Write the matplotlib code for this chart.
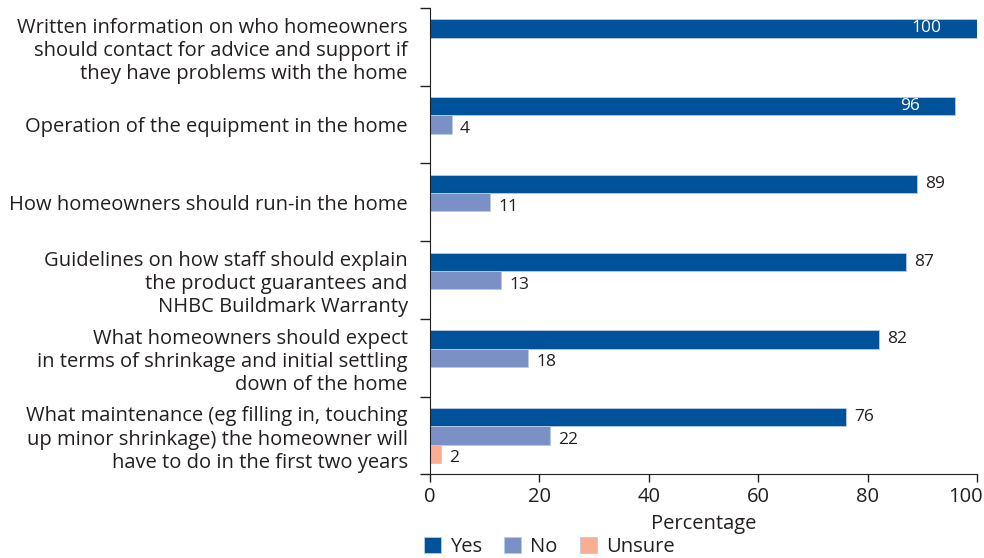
import numpy as np
import matplotlib.pyplot as plt
from matplotlib.transforms import ScaledTranslation

# Survey responses per item (percentage of respondents)
items = [
    "Written information on who homeowners\nshould contact for advice and support if\nthey have problems with the home",
    "Operation of the equipment in the home",
    "How homeowners should run-in the home",
    "Guidelines on how staff should explain\nthe product guarantees and\nNHBC Buildmark Warranty",
    "What homeowners should expect\nin terms of shrinkage and initial settling\ndown of the home",
    "What maintenance (eg filling in, touching\nup minor shrinkage) the homeowner will\nhave to do in the first two years",
]
yes = [100, 96, 89, 87, 82, 76]
no = [None, 4, 11, 13, 18, 22]
unsure = [None, None, None, None, None, 2]

series = [("Yes", yes, "#00529b"), ("No", no, "#7b91c5"), ("Unsure", unsure, "#f9ae92")]
text_color = "#231f20"
fs = 14.5

plt.rcParams["font.family"] = ["Open Sans", "DejaVu Sans"]

fig = plt.figure(figsize=(9.84, 5.58), dpi=100)
ax = fig.add_axes([0.437, 0.150, 0.556, 0.836])

y = np.arange(len(items))
h = 0.235
for k, (name, vals, col) in enumerate(series):
    off = (k - 1) * h
    for i, v in enumerate(vals):
        if v is None:
            continue
        ax.barh(y[i] + off, v, height=h, color=col, edgecolor="#b8cce6", linewidth=0.6,
                label=name if i == len(vals) - 1 else None)
        if v >= 95:
            ax.text(v - 6.5, y[i] + off, str(v), ha="right", va="center",
                    color="white", fontsize=12.5)
        else:
            dy = 0.0 if k == 0 else 0.06
            ax.text(v + 1.5, y[i] + off + dy, str(v), ha="left", va="center",
                    color=text_color, fontsize=12.5)

ax.set_xlim(0, 100)
ax.set_ylim(len(items) - 0.5, -0.5)
ax.set_xticks(range(0, 101, 20))
ax.set_yticks(np.arange(len(items) + 1) - 0.5, minor=False)
ax.set_yticklabels([])
ax.set_yticks(y, minor=True)
ax.set_yticklabels(items, minor=True, fontsize=fs, color=text_color, linespacing=1.22)
ax.tick_params(axis="y", which="minor", length=0, pad=16)
ax.tick_params(axis="y", which="major", length=7, width=1, color=text_color)
ax.tick_params(axis="x", length=6, width=1, labelsize=fs, labelcolor=text_color, color=text_color)
for s in ("top", "right"):
    ax.spines[s].set_visible(False)
for s in ("left", "bottom"):
    ax.spines[s].set_color(text_color)
ax.set_xlabel("Percentage", fontsize=fs, color=text_color, labelpad=5)

# keep the last tick label inside the figure
last = ax.get_xticklabels()[-1]
last.set_transform(last.get_transform() + ScaledTranslation(-0.12, 0, fig.dpi_scale_trans))

fig.legend(loc="lower left", bbox_to_anchor=(0.412, -0.03), ncol=3, frameon=False,
           fontsize=fs, handlelength=0.85, handleheight=0.85, handletextpad=0.45,
           columnspacing=1.1, labelcolor=text_color)

fig.savefig("out.png", dpi=100)
